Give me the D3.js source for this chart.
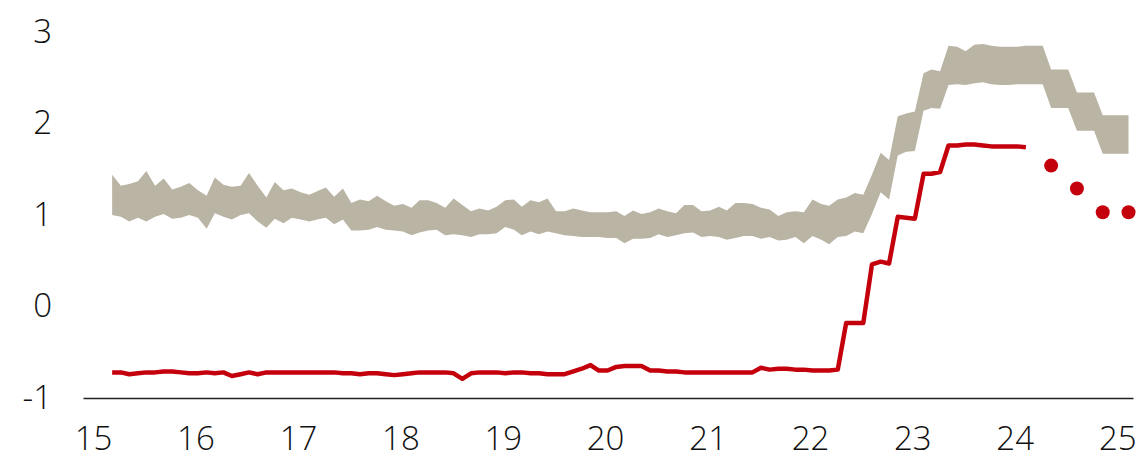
<!DOCTYPE html>
<meta charset="utf-8">
<style>
body { margin: 0; background: #fff; }
.tick-label {
  font: 300 33px "Open Sans", "Noto Sans", sans-serif;
  fill: #111;
}
</style>
<svg width="1136" height="463"></svg>
<script src="https://d3js.org/d3.v7.min.js"></script>
<script>

// monthly series, first observation March 2015
var startYear = 2015, startMonth = 2;

var bandHigh = [
  1.44,1.32,1.34,1.37,1.48,1.32,1.40,1.28,1.31,1.35,
  1.27,1.21,1.41,1.33,1.31,1.32,1.46,1.32,1.19,1.36,
  1.27,1.29,1.25,1.22,1.26,1.30,1.20,1.29,1.13,1.17,
  1.15,1.21,1.15,1.10,1.12,1.08,1.16,1.16,1.13,1.08,
  1.18,1.11,1.04,1.07,1.05,1.09,1.16,1.17,1.09,1.16,
  1.14,1.18,1.04,1.04,1.07,1.05,1.03,1.03,1.03,1.04,
  0.99,1.05,1.01,1.03,1.07,1.04,1.02,1.11,1.11,1.04,
  1.05,1.09,1.05,1.13,1.13,1.12,1.08,1.06,0.99,1.03,
  1.04,1.03,1.17,1.12,1.10,1.17,1.19,1.24,1.22,1.44,
  1.68,1.60,2.08,2.11,2.13,2.55,2.59,2.57,2.85,2.84,
  2.79,2.86,2.87,2.85,2.84,2.84,2.84,2.85,2.85,2.85,
  2.59,2.59,2.59,2.34,2.34,2.34,2.09,2.09,2.09,2.09
];

var bandLow = [
  1.00,0.98,0.93,0.97,0.93,0.98,1.01,0.96,0.97,1.00,
  0.97,0.85,1.02,0.98,0.95,1.00,1.02,0.93,0.86,0.96,
  0.91,0.97,0.95,0.93,0.95,0.97,0.90,0.95,0.83,0.83,
  0.84,0.87,0.84,0.83,0.82,0.78,0.81,0.83,0.84,0.78,
  0.79,0.78,0.76,0.79,0.79,0.80,0.87,0.84,0.78,0.82,
  0.79,0.82,0.80,0.78,0.77,0.76,0.76,0.76,0.75,0.75,
  0.69,0.74,0.74,0.75,0.79,0.76,0.78,0.80,0.81,0.76,
  0.77,0.76,0.73,0.75,0.77,0.77,0.74,0.76,0.72,0.73,
  0.76,0.69,0.77,0.73,0.68,0.76,0.77,0.82,0.80,1.01,
  1.25,1.17,1.65,1.69,1.70,2.14,2.17,2.16,2.42,2.43,
  2.42,2.44,2.45,2.43,2.42,2.42,2.43,2.43,2.43,2.43,
  2.17,2.17,2.17,1.92,1.92,1.92,1.67,1.67,1.67,1.67
];

var policyRate = [
  -0.72,-0.72,-0.74,-0.73,-0.72,-0.72,-0.71,-0.71,-0.72,-0.73,
  -0.73,-0.72,-0.73,-0.72,-0.76,-0.74,-0.72,-0.74,-0.72,-0.72,
  -0.72,-0.72,-0.72,-0.72,-0.72,-0.72,-0.72,-0.73,-0.73,-0.74,
  -0.73,-0.73,-0.74,-0.75,-0.74,-0.73,-0.72,-0.72,-0.72,-0.72,
  -0.73,-0.79,-0.73,-0.72,-0.72,-0.72,-0.73,-0.72,-0.72,-0.73,
  -0.73,-0.74,-0.74,-0.74,-0.71,-0.68,-0.64,-0.70,-0.70,-0.66,
  -0.65,-0.65,-0.65,-0.70,-0.70,-0.71,-0.71,-0.72,-0.72,-0.72,
  -0.72,-0.72,-0.72,-0.72,-0.72,-0.72,-0.67,-0.69,-0.68,-0.68,
  -0.69,-0.69,-0.70,-0.70,-0.70,-0.69,-0.18,-0.18,-0.18,0.46,
  0.49,0.47,0.98,0.97,0.96,1.45,1.45,1.47,1.76,1.76,
  1.77,1.77,1.76,1.75,1.75,1.75,1.75,1.74
];

// quarterly forecast points (month offsets from start)
var forecastMonths = [110, 113, 116, 119];
var forecastValues = [1.54, 1.29, 1.03, 1.03];

var yTicks = [3, 2, 1, 0, -1];

function monthDate(i) { return new Date(startYear, startMonth + i, 10); }

var svg = d3.select("svg");

var x = d3.scaleTime()
    .domain([new Date(2014, 10, 26), new Date(2025, 1, 26)])
    .range([83, 1133]);

var y = d3.scaleLinear()
    .domain([-1, 3])
    .range([398, 32]);

var band = bandHigh.map(function(h, i) { return { date: monthDate(i), hi: h, lo: bandLow[i] }; });
var rate = policyRate.map(function(v, i) { return { date: monthDate(i), value: v }; });
var forecast = forecastMonths.map(function(m, i) { return { date: monthDate(m), value: forecastValues[i] }; });

var area = d3.area()
    .x(function(d) { return x(d.date); })
    .y0(function(d) { return y(d.lo); })
    .y1(function(d) { return y(d.hi); });

svg.append("path")
    .datum(band)
    .attr("d", area)
    .attr("fill", "#bab4a4");

var line = d3.line()
    .x(function(d) { return x(d.date); })
    .y(function(d) { return y(d.value); });

svg.append("path")
    .datum(rate)
    .attr("d", line)
    .attr("fill", "none")
    .attr("stroke", "#c4000c")
    .attr("stroke-width", 4.5)
    .attr("stroke-linejoin", "round");

svg.selectAll(".fc")
    .data(forecast)
    .enter().append("circle")
    .attr("class", "fc")
    .attr("cx", function(d) { return x(d.date); })
    .attr("cy", function(d) { return y(d.value); })
    .attr("r", 7)
    .attr("fill", "#c4000c");

// x axis
var xAxis = d3.axisBottom(x)
    .ticks(d3.timeYear.every(1))
    .tickFormat(d3.timeFormat("%y"))
    .tickSize(0)
    .tickPadding(29);

var gx = svg.append("g")
    .attr("transform", "translate(0," + y(-1) + ")")
    .call(xAxis);
gx.select(".domain").attr("stroke", "#222").attr("stroke-width", 1.5);
gx.selectAll("text").attr("class", "tick-label").attr("font-size", null).attr("font-family", null);

// y labels
svg.selectAll(".ylab")
    .data(yTicks)
    .enter().append("text")
    .attr("class", "tick-label ylab")
    .attr("x", 52)
    .attr("y", function(d) { return y(d) - 1; })
    .attr("dy", "0.35em")
    .attr("text-anchor", "end")
    .text(function(d) { return d; });

</script>
